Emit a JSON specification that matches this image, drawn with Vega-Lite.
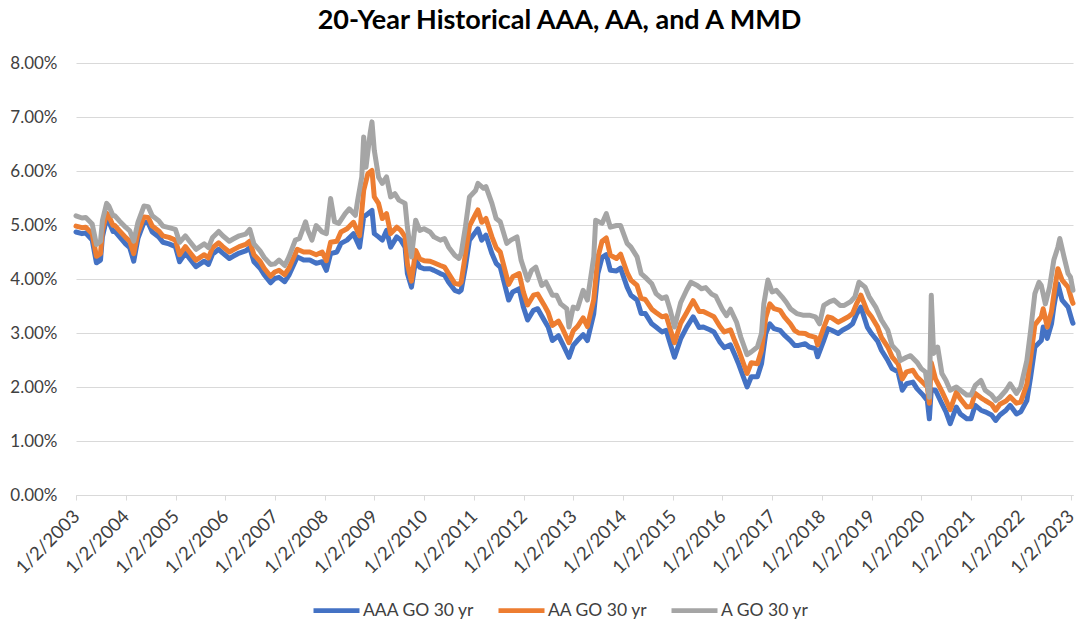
{
"$schema":"https://vega.github.io/schema/vega-lite/v6.json",
"width":997,"height":432,
"autosize":{"type":"none"},
"padding":{"left":76,"top":63,"right":5,"bottom":125},
"background":"#ffffff",
"config":{"view":{"stroke":null},"font":"Lato",
"legend":{"symbolType":"stroke","symbolStrokeWidth":4.7,"symbolSize":2116,"labelFontSize":17.5,"labelColor":"#404040","labelFont":"Lato","labelOffset":1,"columnPadding":14,"padding":0,"rowPadding":0}},
"title":{"text":"20-Year Historical AAA, AA, and A MMD","fontSize":27,"fontWeight":"bold","font":"Lato","color":"#000000","anchor":"middle","frame":"group","dx":-15,"offset":19},
"datasets":{
"aaa":[
{"date":"2003-01-02","rate":4.87},{"date":"2003-02-15","rate":4.84},{"date":"2003-03-15","rate":4.85},{"date":"2003-05-01","rate":4.72},{"date":"2003-06-01","rate":4.30},{"date":"2003-07-01","rate":4.35},{"date":"2003-07-15","rate":4.78},{"date":"2003-08-15","rate":5.12},{"date":"2003-09-01","rate":5.06},{"date":"2003-10-01","rate":4.88},{"date":"2003-10-15","rate":4.88},{"date":"2003-11-15","rate":4.79},
{"date":"2004-01-01","rate":4.65},{"date":"2004-02-01","rate":4.58},{"date":"2004-03-01","rate":4.33},{"date":"2004-04-01","rate":4.75},{"date":"2004-05-15","rate":5.05},{"date":"2004-06-15","rate":5.04},{"date":"2004-07-15","rate":4.87},{"date":"2004-09-01","rate":4.78},{"date":"2004-10-01","rate":4.68},{"date":"2004-11-15","rate":4.65},
{"date":"2005-01-01","rate":4.60},{"date":"2005-02-01","rate":4.32},{"date":"2005-03-15","rate":4.48},{"date":"2005-04-15","rate":4.38},{"date":"2005-06-01","rate":4.23},{"date":"2005-08-01","rate":4.33},{"date":"2005-09-01","rate":4.27},{"date":"2005-10-01","rate":4.46},{"date":"2005-11-15","rate":4.55},{"date":"2005-12-15","rate":4.48},
{"date":"2006-02-01","rate":4.38},{"date":"2006-03-01","rate":4.42},{"date":"2006-04-15","rate":4.48},{"date":"2006-06-01","rate":4.52},{"date":"2006-07-01","rate":4.58},{"date":"2006-08-01","rate":4.32},{"date":"2006-09-15","rate":4.20},{"date":"2006-10-15","rate":4.08},{"date":"2006-12-01","rate":3.93},
{"date":"2007-01-01","rate":4.01},{"date":"2007-02-01","rate":4.03},{"date":"2007-03-15","rate":3.95},{"date":"2007-04-15","rate":4.07},{"date":"2007-06-15","rate":4.41},{"date":"2007-08-01","rate":4.35},{"date":"2007-09-15","rate":4.35},{"date":"2007-11-01","rate":4.29},{"date":"2007-12-15","rate":4.32},
{"date":"2008-01-15","rate":4.16},{"date":"2008-02-15","rate":4.47},{"date":"2008-04-01","rate":4.50},{"date":"2008-05-01","rate":4.66},{"date":"2008-06-15","rate":4.72},{"date":"2008-08-01","rate":4.84},{"date":"2008-09-15","rate":4.59},{"date":"2008-10-15","rate":5.15},{"date":"2008-11-15","rate":5.21},{"date":"2008-12-15","rate":5.27},
{"date":"2009-01-01","rate":4.84},{"date":"2009-02-01","rate":4.78},{"date":"2009-03-01","rate":4.72},{"date":"2009-04-01","rate":4.90},{"date":"2009-05-01","rate":4.59},{"date":"2009-06-15","rate":4.78},{"date":"2009-07-15","rate":4.72},{"date":"2009-08-15","rate":4.59},{"date":"2009-09-01","rate":4.10},{"date":"2009-10-01","rate":3.85},{"date":"2009-11-01","rate":4.35},{"date":"2009-12-01","rate":4.22},
{"date":"2010-01-01","rate":4.19},{"date":"2010-02-15","rate":4.19},{"date":"2010-03-15","rate":4.16},{"date":"2010-05-01","rate":4.10},{"date":"2010-06-01","rate":4.07},{"date":"2010-07-01","rate":3.94},{"date":"2010-08-15","rate":3.79},{"date":"2010-09-15","rate":3.76},{"date":"2010-10-01","rate":3.79},{"date":"2010-11-01","rate":4.22},{"date":"2010-12-01","rate":4.72},
{"date":"2011-01-15","rate":4.87},{"date":"2011-02-01","rate":4.93},{"date":"2011-03-01","rate":4.72},{"date":"2011-04-01","rate":4.81},{"date":"2011-05-15","rate":4.47},{"date":"2011-06-15","rate":4.29},{"date":"2011-07-15","rate":4.22},{"date":"2011-09-15","rate":3.61},{"date":"2011-10-15","rate":3.76},{"date":"2011-12-01","rate":3.82},
{"date":"2012-01-01","rate":3.48},{"date":"2012-02-01","rate":3.24},{"date":"2012-03-15","rate":3.42},{"date":"2012-04-15","rate":3.45},{"date":"2012-06-01","rate":3.24},{"date":"2012-07-01","rate":3.11},{"date":"2012-08-01","rate":2.86},{"date":"2012-09-15","rate":2.95},{"date":"2012-10-15","rate":2.80},{"date":"2012-12-01","rate":2.55},
{"date":"2013-01-01","rate":2.77},{"date":"2013-02-01","rate":2.86},{"date":"2013-03-15","rate":2.97},{"date":"2013-04-15","rate":2.86},{"date":"2013-06-01","rate":3.36},{"date":"2013-07-01","rate":4.10},{"date":"2013-08-01","rate":4.40},{"date":"2013-09-01","rate":4.45},{"date":"2013-10-01","rate":4.16},{"date":"2013-11-15","rate":4.15},{"date":"2013-12-15","rate":4.20},
{"date":"2014-02-01","rate":3.85},{"date":"2014-03-01","rate":3.70},{"date":"2014-04-15","rate":3.61},{"date":"2014-05-15","rate":3.36},{"date":"2014-06-15","rate":3.36},{"date":"2014-08-01","rate":3.17},{"date":"2014-09-01","rate":3.11},{"date":"2014-10-15","rate":3.02},{"date":"2014-11-15","rate":3.05},{"date":"2014-12-15","rate":2.80},
{"date":"2015-01-15","rate":2.55},{"date":"2015-03-01","rate":2.89},{"date":"2015-04-15","rate":3.11},{"date":"2015-06-01","rate":3.30},{"date":"2015-07-15","rate":3.10},{"date":"2015-08-15","rate":3.11},{"date":"2015-10-01","rate":3.06},{"date":"2015-11-01","rate":3.02},{"date":"2015-12-15","rate":2.83},
{"date":"2016-01-15","rate":2.73},{"date":"2016-03-01","rate":2.78},{"date":"2016-04-01","rate":2.60},{"date":"2016-05-01","rate":2.42},{"date":"2016-07-01","rate":2.00},{"date":"2016-08-01","rate":2.19},{"date":"2016-09-15","rate":2.19},{"date":"2016-10-15","rate":2.43},{"date":"2016-11-15","rate":2.99},{"date":"2016-12-15","rate":3.17},
{"date":"2017-01-15","rate":3.08},{"date":"2017-03-01","rate":3.05},{"date":"2017-04-01","rate":2.96},{"date":"2017-05-15","rate":2.86},{"date":"2017-06-15","rate":2.77},{"date":"2017-07-15","rate":2.77},{"date":"2017-09-01","rate":2.80},{"date":"2017-10-01","rate":2.74},{"date":"2017-11-15","rate":2.71},{"date":"2017-12-01","rate":2.56},
{"date":"2018-01-15","rate":2.86},{"date":"2018-02-15","rate":3.08},{"date":"2018-03-15","rate":3.05},{"date":"2018-05-01","rate":2.99},{"date":"2018-06-01","rate":3.05},{"date":"2018-07-15","rate":3.11},{"date":"2018-08-15","rate":3.17},{"date":"2018-09-15","rate":3.36},{"date":"2018-10-15","rate":3.48},{"date":"2018-12-01","rate":3.11},
{"date":"2019-01-01","rate":2.99},{"date":"2019-02-15","rate":2.85},{"date":"2019-03-15","rate":2.68},{"date":"2019-05-01","rate":2.49},{"date":"2019-06-01","rate":2.34},{"date":"2019-07-15","rate":2.28},{"date":"2019-08-15","rate":1.94},{"date":"2019-09-15","rate":2.06},{"date":"2019-11-01","rate":2.09},{"date":"2019-12-01","rate":1.97},
{"date":"2020-01-15","rate":1.85},{"date":"2020-02-15","rate":1.75},{"date":"2020-03-01","rate":1.41},{"date":"2020-03-15","rate":1.95},{"date":"2020-04-15","rate":1.94},{"date":"2020-06-01","rate":1.69},{"date":"2020-07-01","rate":1.54},{"date":"2020-08-01","rate":1.32},{"date":"2020-09-15","rate":1.63},{"date":"2020-10-15","rate":1.50},{"date":"2020-12-01","rate":1.41},
{"date":"2021-01-01","rate":1.41},{"date":"2021-02-01","rate":1.66},{"date":"2021-03-15","rate":1.57},{"date":"2021-04-15","rate":1.54},{"date":"2021-06-01","rate":1.48},{"date":"2021-07-01","rate":1.38},{"date":"2021-08-01","rate":1.48},{"date":"2021-09-15","rate":1.57},{"date":"2021-10-15","rate":1.66},{"date":"2021-12-01","rate":1.50},
{"date":"2022-01-01","rate":1.54},{"date":"2022-02-15","rate":1.75},{"date":"2022-03-15","rate":2.19},{"date":"2022-04-15","rate":2.74},{"date":"2022-06-01","rate":2.86},{"date":"2022-06-15","rate":3.11},{"date":"2022-07-15","rate":2.90},{"date":"2022-08-15","rate":3.17},{"date":"2022-09-01","rate":3.48},{"date":"2022-10-01","rate":3.91},{"date":"2022-11-01","rate":3.61},{"date":"2022-12-15","rate":3.48},
{"date":"2023-01-15","rate":3.21},{"date":"2023-01-20","rate":3.18}
],
"aa":[
{"date":"2003-01-02","rate":4.98},{"date":"2003-02-15","rate":4.95},{"date":"2003-03-15","rate":4.96},{"date":"2003-05-01","rate":4.84},{"date":"2003-06-01","rate":4.42},{"date":"2003-07-01","rate":4.47},{"date":"2003-07-15","rate":4.90},{"date":"2003-08-15","rate":5.22},{"date":"2003-09-01","rate":5.16},{"date":"2003-10-01","rate":4.99},{"date":"2003-10-15","rate":4.99},{"date":"2003-11-15","rate":4.90},
{"date":"2004-01-01","rate":4.77},{"date":"2004-02-01","rate":4.70},{"date":"2004-03-01","rate":4.47},{"date":"2004-04-01","rate":4.86},{"date":"2004-05-15","rate":5.15},{"date":"2004-06-15","rate":5.14},{"date":"2004-07-15","rate":4.98},{"date":"2004-09-01","rate":4.89},{"date":"2004-10-01","rate":4.80},{"date":"2004-11-15","rate":4.77},
{"date":"2005-01-01","rate":4.72},{"date":"2005-02-01","rate":4.45},{"date":"2005-03-15","rate":4.60},{"date":"2005-04-15","rate":4.50},{"date":"2005-06-01","rate":4.35},{"date":"2005-08-01","rate":4.45},{"date":"2005-09-01","rate":4.39},{"date":"2005-10-01","rate":4.58},{"date":"2005-11-15","rate":4.67},{"date":"2005-12-15","rate":4.60},
{"date":"2006-02-01","rate":4.50},{"date":"2006-03-01","rate":4.54},{"date":"2006-04-15","rate":4.60},{"date":"2006-06-01","rate":4.64},{"date":"2006-07-01","rate":4.70},{"date":"2006-08-01","rate":4.45},{"date":"2006-09-15","rate":4.33},{"date":"2006-10-15","rate":4.20},{"date":"2006-12-01","rate":4.05},
{"date":"2007-01-01","rate":4.13},{"date":"2007-02-01","rate":4.16},{"date":"2007-03-15","rate":4.08},{"date":"2007-04-15","rate":4.20},{"date":"2007-06-15","rate":4.55},{"date":"2007-08-01","rate":4.50},{"date":"2007-09-15","rate":4.50},{"date":"2007-11-01","rate":4.45},{"date":"2007-12-15","rate":4.50},
{"date":"2008-01-15","rate":4.34},{"date":"2008-02-15","rate":4.68},{"date":"2008-04-01","rate":4.70},{"date":"2008-05-01","rate":4.87},{"date":"2008-06-15","rate":4.93},{"date":"2008-08-01","rate":5.05},{"date":"2008-09-15","rate":4.80},{"date":"2008-10-15","rate":5.64},{"date":"2008-11-15","rate":5.95},{"date":"2008-12-15","rate":6.01},
{"date":"2009-01-01","rate":5.52},{"date":"2009-02-01","rate":5.40},{"date":"2009-03-01","rate":5.12},{"date":"2009-04-01","rate":5.21},{"date":"2009-05-01","rate":4.84},{"date":"2009-06-15","rate":4.96},{"date":"2009-07-15","rate":4.90},{"date":"2009-08-15","rate":4.78},{"date":"2009-09-01","rate":4.28},{"date":"2009-10-01","rate":3.96},{"date":"2009-11-01","rate":4.53},{"date":"2009-12-01","rate":4.37},
{"date":"2010-01-01","rate":4.34},{"date":"2010-02-15","rate":4.33},{"date":"2010-03-15","rate":4.30},{"date":"2010-05-01","rate":4.25},{"date":"2010-06-01","rate":4.22},{"date":"2010-07-01","rate":4.10},{"date":"2010-08-15","rate":3.92},{"date":"2010-09-15","rate":3.90},{"date":"2010-10-01","rate":3.94},{"date":"2010-11-01","rate":4.45},{"date":"2010-12-01","rate":4.98},
{"date":"2011-01-15","rate":5.20},{"date":"2011-02-01","rate":5.28},{"date":"2011-03-01","rate":5.05},{"date":"2011-04-01","rate":5.12},{"date":"2011-05-15","rate":4.78},{"date":"2011-06-15","rate":4.58},{"date":"2011-07-15","rate":4.50},{"date":"2011-09-15","rate":3.90},{"date":"2011-10-15","rate":4.04},{"date":"2011-12-01","rate":4.10},
{"date":"2012-01-01","rate":3.76},{"date":"2012-02-01","rate":3.52},{"date":"2012-03-15","rate":3.70},{"date":"2012-04-15","rate":3.72},{"date":"2012-06-01","rate":3.52},{"date":"2012-07-01","rate":3.38},{"date":"2012-08-01","rate":3.14},{"date":"2012-09-15","rate":3.22},{"date":"2012-10-15","rate":3.08},{"date":"2012-12-01","rate":2.82},
{"date":"2013-01-01","rate":3.04},{"date":"2013-02-01","rate":3.12},{"date":"2013-03-15","rate":3.28},{"date":"2013-04-15","rate":3.12},{"date":"2013-06-01","rate":3.62},{"date":"2013-07-01","rate":4.40},{"date":"2013-08-01","rate":4.70},{"date":"2013-09-01","rate":4.76},{"date":"2013-10-01","rate":4.44},{"date":"2013-11-15","rate":4.38},{"date":"2013-12-15","rate":4.46},
{"date":"2014-02-01","rate":4.12},{"date":"2014-03-01","rate":3.98},{"date":"2014-04-15","rate":3.88},{"date":"2014-05-15","rate":3.64},{"date":"2014-06-15","rate":3.62},{"date":"2014-08-01","rate":3.44},{"date":"2014-09-01","rate":3.38},{"date":"2014-10-15","rate":3.30},{"date":"2014-11-15","rate":3.32},{"date":"2014-12-15","rate":3.07},
{"date":"2015-01-15","rate":2.82},{"date":"2015-03-01","rate":3.18},{"date":"2015-04-15","rate":3.38},{"date":"2015-06-01","rate":3.60},{"date":"2015-07-15","rate":3.40},{"date":"2015-08-15","rate":3.40},{"date":"2015-10-01","rate":3.34},{"date":"2015-11-01","rate":3.30},{"date":"2015-12-15","rate":3.12},
{"date":"2016-01-15","rate":3.02},{"date":"2016-03-01","rate":3.06},{"date":"2016-04-01","rate":2.86},{"date":"2016-05-01","rate":2.68},{"date":"2016-07-01","rate":2.25},{"date":"2016-08-01","rate":2.45},{"date":"2016-09-15","rate":2.43},{"date":"2016-10-15","rate":2.68},{"date":"2016-11-15","rate":3.28},{"date":"2016-12-15","rate":3.54},
{"date":"2017-01-15","rate":3.45},{"date":"2017-03-01","rate":3.42},{"date":"2017-04-01","rate":3.30},{"date":"2017-05-15","rate":3.17},{"date":"2017-06-15","rate":3.05},{"date":"2017-07-15","rate":3.00},{"date":"2017-09-01","rate":2.99},{"date":"2017-10-01","rate":2.95},{"date":"2017-11-15","rate":2.92},{"date":"2017-12-01","rate":2.78},
{"date":"2018-01-15","rate":3.10},{"date":"2018-02-15","rate":3.30},{"date":"2018-03-15","rate":3.28},{"date":"2018-05-01","rate":3.20},{"date":"2018-06-01","rate":3.24},{"date":"2018-07-15","rate":3.30},{"date":"2018-08-15","rate":3.36},{"date":"2018-09-15","rate":3.55},{"date":"2018-10-15","rate":3.70},{"date":"2018-12-01","rate":3.40},
{"date":"2019-01-01","rate":3.30},{"date":"2019-02-15","rate":3.11},{"date":"2019-03-15","rate":2.92},{"date":"2019-05-01","rate":2.74},{"date":"2019-06-01","rate":2.56},{"date":"2019-07-15","rate":2.43},{"date":"2019-08-15","rate":2.15},{"date":"2019-09-15","rate":2.28},{"date":"2019-11-01","rate":2.31},{"date":"2019-12-01","rate":2.19},
{"date":"2020-01-15","rate":2.08},{"date":"2020-02-15","rate":2.00},{"date":"2020-03-01","rate":1.70},{"date":"2020-03-15","rate":2.45},{"date":"2020-04-15","rate":2.15},{"date":"2020-06-01","rate":1.92},{"date":"2020-07-01","rate":1.76},{"date":"2020-08-01","rate":1.58},{"date":"2020-09-15","rate":1.90},{"date":"2020-10-15","rate":1.78},{"date":"2020-12-01","rate":1.63},
{"date":"2021-01-01","rate":1.64},{"date":"2021-02-01","rate":1.88},{"date":"2021-03-15","rate":1.80},{"date":"2021-04-15","rate":1.75},{"date":"2021-06-01","rate":1.68},{"date":"2021-07-01","rate":1.57},{"date":"2021-08-01","rate":1.68},{"date":"2021-09-15","rate":1.74},{"date":"2021-10-15","rate":1.82},{"date":"2021-12-01","rate":1.70},
{"date":"2022-01-01","rate":1.72},{"date":"2022-02-15","rate":2.05},{"date":"2022-03-15","rate":2.55},{"date":"2022-04-15","rate":3.15},{"date":"2022-06-01","rate":3.30},{"date":"2022-06-15","rate":3.45},{"date":"2022-07-15","rate":3.11},{"date":"2022-08-15","rate":3.40},{"date":"2022-09-01","rate":3.70},{"date":"2022-10-01","rate":4.19},{"date":"2022-11-01","rate":3.98},{"date":"2022-12-15","rate":3.85},
{"date":"2023-01-15","rate":3.58},{"date":"2023-01-20","rate":3.55}
],
"a":[
{"date":"2003-01-02","rate":5.17},{"date":"2003-02-15","rate":5.13},{"date":"2003-03-15","rate":5.14},{"date":"2003-05-01","rate":5.02},{"date":"2003-06-01","rate":4.64},{"date":"2003-07-01","rate":4.70},{"date":"2003-07-15","rate":5.08},{"date":"2003-08-15","rate":5.40},{"date":"2003-09-01","rate":5.35},{"date":"2003-10-01","rate":5.17},{"date":"2003-10-15","rate":5.17},{"date":"2003-11-15","rate":5.08},
{"date":"2004-01-01","rate":4.96},{"date":"2004-02-01","rate":4.89},{"date":"2004-03-01","rate":4.70},{"date":"2004-04-01","rate":5.05},{"date":"2004-05-15","rate":5.35},{"date":"2004-06-15","rate":5.34},{"date":"2004-07-15","rate":5.17},{"date":"2004-09-01","rate":5.08},{"date":"2004-10-01","rate":4.98},{"date":"2004-11-15","rate":4.95},
{"date":"2005-01-01","rate":4.92},{"date":"2005-02-01","rate":4.68},{"date":"2005-03-15","rate":4.80},{"date":"2005-04-15","rate":4.70},{"date":"2005-06-01","rate":4.55},{"date":"2005-08-01","rate":4.65},{"date":"2005-09-01","rate":4.58},{"date":"2005-10-01","rate":4.77},{"date":"2005-11-15","rate":4.88},{"date":"2005-12-15","rate":4.80},
{"date":"2006-02-01","rate":4.70},{"date":"2006-03-01","rate":4.74},{"date":"2006-04-15","rate":4.80},{"date":"2006-06-01","rate":4.83},{"date":"2006-07-01","rate":4.92},{"date":"2006-08-01","rate":4.65},{"date":"2006-09-15","rate":4.52},{"date":"2006-10-15","rate":4.40},{"date":"2006-12-01","rate":4.27},
{"date":"2007-01-01","rate":4.28},{"date":"2007-02-01","rate":4.35},{"date":"2007-03-15","rate":4.25},{"date":"2007-04-15","rate":4.41},{"date":"2007-06-01","rate":4.72},{"date":"2007-07-01","rate":4.75},{"date":"2007-08-15","rate":5.06},{"date":"2007-09-01","rate":4.90},{"date":"2007-10-01","rate":4.72},{"date":"2007-11-01","rate":4.99},{"date":"2007-12-15","rate":4.87},
{"date":"2008-01-15","rate":4.84},{"date":"2008-02-15","rate":5.49},{"date":"2008-03-15","rate":5.06},{"date":"2008-04-15","rate":5.03},{"date":"2008-06-01","rate":5.21},{"date":"2008-07-01","rate":5.30},{"date":"2008-08-15","rate":5.18},{"date":"2008-09-01","rate":5.46},{"date":"2008-10-01","rate":5.89},{"date":"2008-10-15","rate":6.63},{"date":"2008-11-01","rate":6.07},{"date":"2008-12-01","rate":6.69},{"date":"2008-12-15","rate":6.91},
{"date":"2009-01-01","rate":6.38},{"date":"2009-02-01","rate":5.89},{"date":"2009-03-01","rate":5.77},{"date":"2009-04-01","rate":5.89},{"date":"2009-05-01","rate":5.52},{"date":"2009-06-01","rate":5.58},{"date":"2009-07-01","rate":5.46},{"date":"2009-08-15","rate":5.40},{"date":"2009-09-01","rate":4.96},{"date":"2009-10-01","rate":4.41},{"date":"2009-11-01","rate":5.09},{"date":"2009-12-01","rate":4.90},
{"date":"2010-01-01","rate":4.93},{"date":"2010-02-15","rate":4.87},{"date":"2010-03-15","rate":4.78},{"date":"2010-05-01","rate":4.72},{"date":"2010-06-01","rate":4.75},{"date":"2010-07-01","rate":4.59},{"date":"2010-08-15","rate":4.44},{"date":"2010-09-15","rate":4.38},{"date":"2010-10-01","rate":4.47},{"date":"2010-11-01","rate":4.96},{"date":"2010-12-01","rate":5.52},
{"date":"2011-01-15","rate":5.64},{"date":"2011-02-01","rate":5.77},{"date":"2011-03-15","rate":5.68},{"date":"2011-04-01","rate":5.71},{"date":"2011-05-15","rate":5.40},{"date":"2011-06-15","rate":5.12},{"date":"2011-07-15","rate":5.06},{"date":"2011-09-01","rate":4.66},{"date":"2011-10-01","rate":4.72},{"date":"2011-11-15","rate":4.78},{"date":"2011-12-15","rate":4.35},
{"date":"2012-02-01","rate":3.98},{"date":"2012-03-01","rate":4.16},{"date":"2012-04-01","rate":4.22},{"date":"2012-05-15","rate":3.88},{"date":"2012-06-15","rate":3.94},{"date":"2012-08-01","rate":3.70},{"date":"2012-09-01","rate":3.70},{"date":"2012-10-01","rate":3.54},{"date":"2012-11-15","rate":3.45},{"date":"2012-12-01","rate":3.11},
{"date":"2013-01-01","rate":3.48},{"date":"2013-02-01","rate":3.45},{"date":"2013-03-15","rate":3.79},{"date":"2013-04-15","rate":3.61},{"date":"2013-06-01","rate":4.41},{"date":"2013-06-15","rate":5.09},{"date":"2013-08-01","rate":5.03},{"date":"2013-09-01","rate":5.21},{"date":"2013-10-01","rate":4.96},{"date":"2013-11-15","rate":4.99},{"date":"2013-12-15","rate":4.99},
{"date":"2014-02-01","rate":4.66},{"date":"2014-03-01","rate":4.59},{"date":"2014-04-15","rate":4.41},{"date":"2014-05-15","rate":4.10},{"date":"2014-06-15","rate":4.03},{"date":"2014-08-01","rate":3.91},{"date":"2014-09-01","rate":3.73},{"date":"2014-10-15","rate":3.64},{"date":"2014-11-15","rate":3.67},{"date":"2014-12-15","rate":3.42},
{"date":"2015-01-15","rate":3.11},{"date":"2015-03-01","rate":3.56},{"date":"2015-04-15","rate":3.80},{"date":"2015-05-15","rate":3.94},{"date":"2015-07-01","rate":3.88},{"date":"2015-08-01","rate":3.82},{"date":"2015-09-01","rate":3.84},{"date":"2015-10-15","rate":3.72},{"date":"2015-11-15","rate":3.68},
{"date":"2016-01-01","rate":3.44},{"date":"2016-02-01","rate":3.32},{"date":"2016-03-01","rate":3.44},{"date":"2016-04-15","rate":3.20},{"date":"2016-05-15","rate":2.93},{"date":"2016-07-01","rate":2.60},{"date":"2016-08-01","rate":2.65},{"date":"2016-09-15","rate":2.74},{"date":"2016-10-15","rate":2.99},{"date":"2016-11-01","rate":3.54},{"date":"2016-12-01","rate":3.98},
{"date":"2017-01-01","rate":3.76},{"date":"2017-02-01","rate":3.79},{"date":"2017-03-15","rate":3.67},{"date":"2017-04-15","rate":3.57},{"date":"2017-05-15","rate":3.45},{"date":"2017-07-01","rate":3.36},{"date":"2017-08-15","rate":3.33},{"date":"2017-10-01","rate":3.33},{"date":"2017-11-15","rate":3.30},{"date":"2017-12-15","rate":3.17},
{"date":"2018-01-15","rate":3.51},{"date":"2018-03-01","rate":3.58},{"date":"2018-04-01","rate":3.61},{"date":"2018-05-15","rate":3.51},{"date":"2018-06-15","rate":3.51},{"date":"2018-08-01","rate":3.58},{"date":"2018-09-01","rate":3.67},{"date":"2018-10-01","rate":3.94},{"date":"2018-11-15","rate":3.85},{"date":"2018-12-15","rate":3.67},
{"date":"2019-02-01","rate":3.48},{"date":"2019-03-15","rate":3.24},{"date":"2019-05-01","rate":3.05},{"date":"2019-06-01","rate":2.77},{"date":"2019-07-15","rate":2.65},{"date":"2019-08-01","rate":2.49},{"date":"2019-09-15","rate":2.55},{"date":"2019-10-15","rate":2.58},{"date":"2019-12-01","rate":2.46},
{"date":"2020-01-01","rate":2.34},{"date":"2020-02-01","rate":2.28},{"date":"2020-03-01","rate":1.81},{"date":"2020-03-15","rate":3.70},{"date":"2020-04-01","rate":2.62},{"date":"2020-05-01","rate":2.74},{"date":"2020-06-01","rate":2.25},{"date":"2020-07-01","rate":2.12},{"date":"2020-08-01","rate":1.94},{"date":"2020-09-15","rate":2.00},{"date":"2020-10-15","rate":1.94},{"date":"2020-12-01","rate":1.85},
{"date":"2021-01-01","rate":1.85},{"date":"2021-02-01","rate":2.03},{"date":"2021-03-15","rate":2.12},{"date":"2021-04-15","rate":1.94},{"date":"2021-06-01","rate":1.85},{"date":"2021-07-01","rate":1.75},{"date":"2021-08-01","rate":1.81},{"date":"2021-09-15","rate":1.94},{"date":"2021-10-15","rate":2.06},{"date":"2021-12-01","rate":1.88},
{"date":"2022-01-01","rate":2.00},{"date":"2022-02-15","rate":2.49},{"date":"2022-03-15","rate":3.05},{"date":"2022-04-15","rate":3.73},{"date":"2022-05-15","rate":3.94},{"date":"2022-06-01","rate":3.88},{"date":"2022-07-01","rate":3.54},{"date":"2022-08-01","rate":3.85},{"date":"2022-09-01","rate":4.35},{"date":"2022-10-01","rate":4.59},{"date":"2022-10-15","rate":4.75},{"date":"2022-11-15","rate":4.41},{"date":"2022-12-15","rate":4.10},
{"date":"2023-01-01","rate":4.04},{"date":"2023-01-20","rate":3.79}
]
},
"encoding":{
"x":{"field":"date","type":"temporal","scale":{"type":"utc","domain":[{"year":2003,"month":1,"date":2,"utc":true},{"year":2023,"month":1,"date":20,"utc":true}]},
"axis":{"title":null,"grid":false,"values":[{"year":2003,"month":1,"date":2,"utc":true},{"year":2004,"month":1,"date":2,"utc":true},{"year":2005,"month":1,"date":2,"utc":true},{"year":2006,"month":1,"date":2,"utc":true},{"year":2007,"month":1,"date":2,"utc":true},{"year":2008,"month":1,"date":2,"utc":true},{"year":2009,"month":1,"date":2,"utc":true},{"year":2010,"month":1,"date":2,"utc":true},{"year":2011,"month":1,"date":2,"utc":true},{"year":2012,"month":1,"date":2,"utc":true},{"year":2013,"month":1,"date":2,"utc":true},{"year":2014,"month":1,"date":2,"utc":true},{"year":2015,"month":1,"date":2,"utc":true},{"year":2016,"month":1,"date":2,"utc":true},{"year":2017,"month":1,"date":2,"utc":true},{"year":2018,"month":1,"date":2,"utc":true},{"year":2019,"month":1,"date":2,"utc":true},{"year":2020,"month":1,"date":2,"utc":true},{"year":2021,"month":1,"date":2,"utc":true},{"year":2022,"month":1,"date":2,"utc":true},{"year":2023,"month":1,"date":2,"utc":true}],
"labelExpr":"utcFormat(datum.value,'%-m/%-d/%Y')","labelAngle":-45,"labelAlign":"right","labelBaseline":"middle","labelFont":"Lato","labelFontSize":18.5,"labelColor":"#404040","labelPadding":13,"labelOverlap":false,"labelFlush":false,"labelBound":false,"tickSize":5,"tickColor":"#d9d9d9","domainColor":"#d9d9d9","domainWidth":1}},
"y":{"field":"rate","type":"quantitative","scale":{"domain":[0,8]},
"axis":{"title":null,"values":[0,1,2,3,4,5,6,7,8],"labelExpr":"format(datum.value,'.2f')+'%'","labelFont":"Lato","labelFontSize":17,"labelColor":"#404040","domain":false,"ticks":false,"labelPadding":19,"gridColor":"#d9d9d9","gridWidth":1}}
},
"layer":[
{"data":{"name":"aaa"},"mark":{"type":"line","strokeWidth":5,"strokeJoin":"round","strokeCap":"round"},
"encoding":{"color":{"datum":"AAA GO 30 yr","type":"nominal","scale":{"domain":["AAA GO 30 yr","AA GO 30 yr","A GO 30 yr"],"range":["#4472C4","#ED7D31","#A5A5A5"]},"legend":{"title":null,"orient":"none","direction":"horizontal","legendX":235,"legendY":522}}}},
{"data":{"name":"aa"},"mark":{"type":"line","strokeWidth":5,"strokeJoin":"round","strokeCap":"round"},
"encoding":{"color":{"datum":"AA GO 30 yr","type":"nominal"}}},
{"data":{"name":"a"},"mark":{"type":"line","strokeWidth":5,"strokeJoin":"round","strokeCap":"round"},
"encoding":{"color":{"datum":"A GO 30 yr","type":"nominal"}}}
]
}
